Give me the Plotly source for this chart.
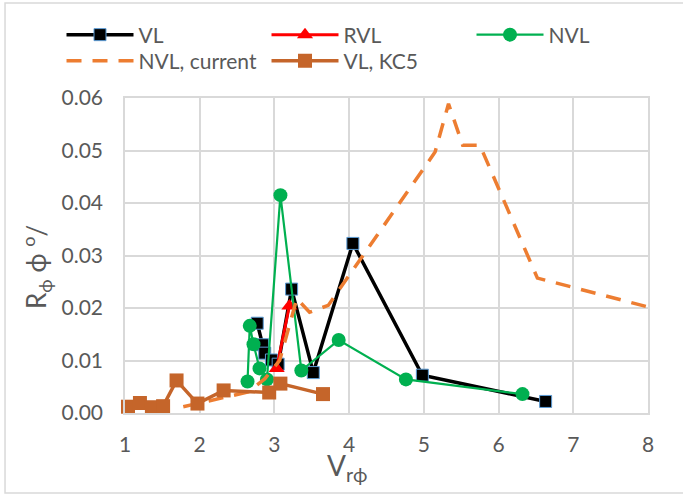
import plotly.graph_objects as go

# VL series
vl_x = [2.77, 2.84, 2.87, 2.96, 3.05, 3.23, 3.52, 4.05, 4.98, 6.63]
vl_y = [0.0171, 0.0130, 0.0114, 0.0101, 0.0093, 0.0236, 0.0077, 0.0323, 0.0072, 0.0022]

# RVL series
rvl_x = [3.03, 3.20]
rvl_y = [0.0085, 0.0204]

# NVL series
nvl_x = [2.64, 2.67, 2.72, 2.80, 2.90, 3.08, 3.36, 3.86, 4.76, 6.32]
nvl_y = [0.0060, 0.0166, 0.0131, 0.0085, 0.0064, 0.0415, 0.0081, 0.0139, 0.0064, 0.0036]

# NVL, current (dashed curve)
nvlc_x = [1.78, 2.65, 2.87, 3.07, 3.30, 3.47, 3.72, 5.15, 5.33, 5.52, 5.75, 6.52, 8.0]
nvlc_y = [0.0012, 0.0040, 0.0065, 0.0100, 0.0218, 0.0192, 0.0205, 0.0497, 0.0589, 0.0510, 0.0510, 0.0257, 0.0202]

# VL, KC5 series
kc5_x = [1.04, 1.20, 1.36, 1.51, 1.69, 1.97, 2.32, 2.93, 3.08, 3.65]
kc5_y = [0.0012, 0.0019, 0.0011, 0.0013, 0.0062, 0.0018, 0.0043, 0.0039, 0.0056, 0.0036]

x_ticks = [1, 2, 3, 4, 5, 6, 7, 8]
y_ticks = [0.00, 0.01, 0.02, 0.03, 0.04, 0.05, 0.06]

FONT = "Lato"
TXT = "#595959"
GRID = "#D9D9D9"

fig = go.Figure()
fig.add_trace(go.Scatter(
    x=vl_x, y=vl_y, name="VL", mode="lines+markers", cliponaxis=False,
    legend="legend",
    line=dict(color="black", width=3.5),
    marker=dict(symbol="square", size=12, color="black",
                line=dict(color="#5B9BD5", width=1)),
))
fig.add_trace(go.Scatter(
    x=rvl_x, y=rvl_y, name="RVL", mode="lines+markers", cliponaxis=False,
    legend="legend",
    line=dict(color="#FF0000", width=3),
    marker=dict(symbol="triangle-up", size=14, color="#FF0000"),
))
fig.add_trace(go.Scatter(
    x=nvl_x, y=nvl_y, name="NVL", mode="lines+markers", cliponaxis=False,
    legend="legend",
    line=dict(color="#00B050", width=2.2),
    marker=dict(symbol="circle", size=14, color="#00B050"),
))
fig.add_trace(go.Scatter(
    x=nvlc_x, y=nvlc_y, name="NVL, current", mode="lines", cliponaxis=False,
    legend="legend2",
    line=dict(color="#ED7D31", width=3.5, dash="15px,11px"),
))
fig.add_trace(go.Scatter(
    x=kc5_x, y=kc5_y, name="VL, KC5", mode="lines+markers", cliponaxis=False,
    legend="legend2",
    line=dict(color="#C5652A", width=3.5),
    marker=dict(symbol="square", size=14, color="#C5652A"),
))

fig.update_xaxes(
    range=[1, 8], tickvals=x_ticks, ticktext=[str(v) for v in x_ticks],
    showgrid=True, gridcolor=GRID, gridwidth=1.5,
    showline=True, linecolor=GRID, linewidth=1.5, mirror=True,
    zeroline=False, ticks="", ticklabelstandoff=12,
    tickfont=dict(family=FONT, size=21, color=TXT),
)
fig.update_yaxes(
    range=[0, 0.06], tickvals=y_ticks, tickformat=".2f",
    showgrid=True, gridcolor=GRID, gridwidth=1.5,
    showline=True, linecolor=GRID, linewidth=1.5, mirror=True,
    zeroline=False, ticks="", ticklabelstandoff=16,
    tickfont=dict(family=FONT, size=21, color=TXT),
)

# axis titles
fig.add_annotation(
    text="V<sub>rϕ</sub>", xref="x", yref="paper", x=3.98, y=-0.104,
    xanchor="center", yanchor="top", showarrow=False,
    font=dict(family=FONT, size=28, color=TXT),
)
fig.add_annotation(
    text="R<sub>ϕ</sub> ϕ <sup>o</sup>/", xref="paper", yref="paper",
    x=-0.17, y=0.464, xanchor="center", yanchor="middle", textangle=-90,
    showarrow=False, font=dict(family=FONT, size=26, color=TXT),
)

# outer chart border
fig.add_shape(type="rect", xref="paper", yref="paper",
              x0=-0.2294, x1=1.07, y0=-0.254, y1=1.3016,
              line=dict(color=GRID, width=1.5), fillcolor="rgba(0,0,0,0)")

legend_common = dict(
    orientation="h", xref="paper", yref="paper",
    x=-0.1214, xanchor="left", yanchor="middle",
    itemwidth=67, entrywidth=123, entrywidthmode="pixels",
    font=dict(family=FONT, size=21, color=TXT),
    bgcolor="rgba(0,0,0,0)", itemsizing="trace",
)

fig.update_layout(
    width=683, height=495,
    margin=dict(l=125, r=35, t=98, b=82, autoexpand=False),
    paper_bgcolor="white", plot_bgcolor="white",
    showlegend=True,
    legend=dict(y=(413 - 35) / 315, **legend_common),
    legend2=dict(y=(413 - 61) / 315, **legend_common),
)

fig.write_html("out.html")
